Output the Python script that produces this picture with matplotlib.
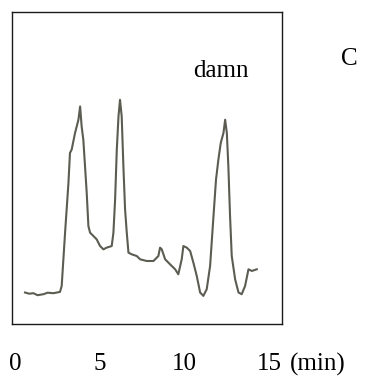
import matplotlib.pyplot as plt

# chromatogram trace (time in min, signal in arbitrary units)
t_min = [0.56, 0.80, 1.06, 1.30, 1.65, 1.90, 2.24, 2.63, 2.73, 2.93, 3.13, 3.22, 3.32,
         3.52, 3.72, 3.82, 3.91, 4.01, 4.11, 4.21, 4.31, 4.41, 4.61, 4.80, 5.00,
         5.20, 5.39, 5.69, 5.79, 5.89, 5.99, 6.09, 6.18, 6.28, 6.38, 6.48, 6.58,
         6.68, 6.87, 7.17, 7.37, 7.76, 8.16, 8.45, 8.55, 8.65, 8.85, 9.14, 9.44,
         9.63, 9.83, 9.93, 10.13, 10.33, 10.52, 10.72, 10.92, 11.11, 11.31, 11.51,
         11.71, 11.86, 12.00, 12.14, 12.30, 12.40, 12.50, 12.59, 12.69, 12.79,
         12.99, 13.19, 13.38, 13.58, 13.78, 13.98, 14.27]
signal = [31.7, 30.5, 31.0, 29.0, 30.0, 31.5, 31.0, 32.3, 38.3, 91.7, 141.7, 171.7, 175.0,
          191.7, 205.0, 218.3, 198.3, 185.0, 158.3, 131.7, 98.3, 91.7, 88.3, 85.0, 78.3,
          75.0, 76.7, 78.3, 91.7, 125.0, 175.0, 208.3, 225.0, 208.3, 158.3, 115.0, 91.7,
          71.7, 70.0, 68.3, 65.0, 63.3, 63.3, 68.3, 76.7, 75.0, 65.0, 60.0, 55.0,
          50.0, 65.0, 78.3, 76.7, 73.3, 61.7, 48.3, 31.7, 28.3, 35.0, 58.3,
          108.3, 145.0, 165.0, 181.7, 191.7, 205.0, 191.7, 158.3, 108.3, 68.3,
          45.0, 31.7, 30.0, 38.3, 55.0, 53.3, 55.0]

tick_pos = [0, 5, 10, 15]
tick_labels = ['0', '5', '10', '15']

plt.rcParams['font.family'] = ['Liberation Serif', 'DejaVu Serif']

fig = plt.figure(figsize=(3.68, 3.76), dpi=100)
ax = fig.add_axes([0.0326, 0.138, 0.734, 0.830])

ax.plot(t_min, signal, color='#5c5c52', linewidth=1.5)

ax.set_xlim(-0.21, 15.77)
ax.set_ylim(0, 313)
ax.set_yticks([])
ax.set_xticks(tick_pos)
ax.set_xticklabels(tick_labels, fontsize=18)
ax.tick_params(axis='x', length=0, pad=20.5)
for s in ax.spines.values():
    s.set_linewidth(1.0)
    s.set_color('#1a1a1a')

ax.annotate('(min)', xy=(15, 0), xycoords=('data', 'axes fraction'),
            xytext=(15, -29), textcoords='offset points', ha='left', va='center',
            fontsize=18)

ax.text(0.774, 0.81, 'damn', transform=ax.transAxes, ha='center', va='center', fontsize=18)
fig.text(0.948, 0.844, 'C', ha='center', va='center', fontsize=18)

fig.savefig('out.png', dpi=100)
